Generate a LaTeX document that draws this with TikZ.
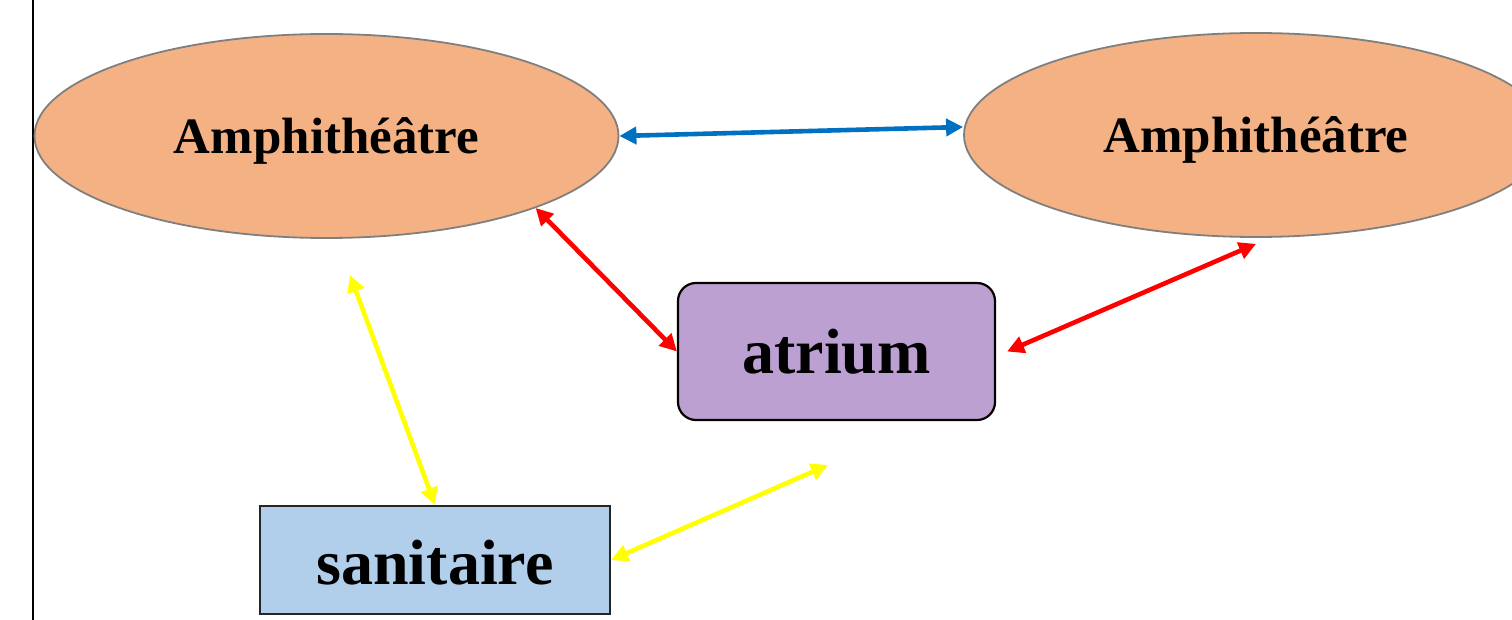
\documentclass[tikz,border=0pt]{standalone}
\usepackage{fontspec}
\setmainfont{Liberation Serif}
\usetikzlibrary{arrows.meta,shapes.geometric}
\definecolor{amphi}{HTML}{F4B183}
\definecolor{amphiline}{HTML}{7F7F7F}
\definecolor{atr}{HTML}{BDA0D2}
\definecolor{san}{HTML}{B1CEEA}
\definecolor{bluearr}{HTML}{0070C0}
\definecolor{yellowarr}{HTML}{FFFF00}
\definecolor{redarr}{HTML}{FF0000}
\tikzset{
  amphinode/.style={ellipse, draw=amphiline, line width=1.8pt, fill=amphi,
    minimum width=584pt, minimum height=204pt, inner sep=0pt,
    font=\bfseries\fontsize{51}{60}\selectfont},
  atriumnode/.style={rectangle, rounded corners=18pt, draw=black, line width=2.2pt, fill=atr,
    minimum width=317pt, minimum height=137pt, inner sep=0pt,
    font=\bfseries\fontsize{64}{74}\selectfont},
  sannode/.style={rectangle, draw=black!85, line width=2.2pt, fill=san,
    minimum width=350pt, minimum height=108pt, inner sep=0pt,
    font=\bfseries\fontsize{64}{74}\selectfont},
  link/.style={line width=4.6pt, {Triangle[length=17pt,width=17pt]}-{Triangle[length=17pt,width=17pt]}},
}
\begin{document}
\begin{tikzpicture}[x=1pt,y=-1pt]
\clip (0,0) rectangle (1512,620);
\useasboundingbox (0,0) rectangle (1512,620);
\fill[white] (0,0) rectangle (1512,620);
\draw[line width=2.4pt] (33,0) -- (33,620);
\node[amphinode] (e1) at (326.5,136) {\raisebox{-5pt}[\height][\depth]{Amphithéâtre}};
\node[amphinode] (e2) at (1256,135) {\raisebox{-5pt}[\height][\depth]{Amphithéâtre}};
\node[atriumnode] (at) at (836.5,351.5) {atrium};
\node[sannode] (sa) at (435,560) {\raisebox{-3pt}[\height][\depth]{sanitaire}};
\coordinate (ytop) at (350,275);
\coordinate (yend) at (828,465);
\draw[link, draw=bluearr, fill=bluearr] (e1.east) -- ([yshift=8pt]e2.west);
\draw[link, draw=redarr, fill=redarr] (e1.-19.2) -- (at.west);
\draw[link, draw=redarr, fill=redarr] ([xshift=11pt]at.east) -- ([yshift=-6pt]e2.south);
\draw[link, draw=yellowarr, fill=yellowarr] (ytop) -- (sa.north);
\draw[link, draw=yellowarr, fill=yellowarr] (sa.east) -- (yend);
\end{tikzpicture}
\end{document}
